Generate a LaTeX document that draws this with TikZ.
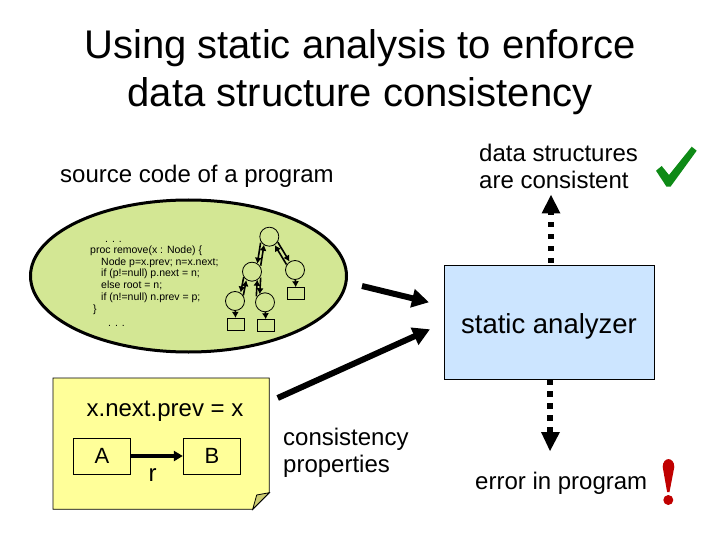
\documentclass[tikz,border=0pt]{standalone}
\usepackage{fontspec}
\setmainfont{Liberation Sans}
\usetikzlibrary{arrows.meta,shapes.geometric}
\definecolor{ellfill}{HTML}{D3E794}
\definecolor{notefill}{HTML}{FFFF99}
\definecolor{foldfill}{HTML}{CDCD70}
\definecolor{boxfill}{HTML}{CCE5FF}
\definecolor{okgreen}{HTML}{0E8A16}
\definecolor{errred}{HTML}{C00000}
\tikzset{
  lbl/.style={inner sep=0pt,align=left,font=\fontsize{24}{27}\selectfont},
  codeln/.style={inner sep=0pt,anchor=base west,font=\fontsize{10.5}{12}\selectfont},
  tn/.style={circle,draw,line width=0.8pt,minimum size=19pt,inner sep=0pt},
  leaf/.style={rectangle,draw,line width=0.8pt,minimum width=17pt,minimum height=12pt,inner sep=0pt},
  link/.style={line width=1.6pt,-{Latex[length=6pt,width=7pt]}},
  big/.style={line width=6pt,-{Triangle[length=17pt,width=18pt]}},
  dots/.style={line width=6.5pt},
  boxnode/.style={draw,line width=0.8pt,inner sep=0pt,font=\fontsize{22}{24}\selectfont,minimum width=57.5pt,minimum height=36pt}
}
\begin{document}
\begin{tikzpicture}[x=1pt,y=-1pt]
\useasboundingbox (0,0) rectangle (720,540);
\fill[white] (0,0) rectangle (720,540);
\node[inner sep=0pt,align=center,font=\fontsize{40}{48}\selectfont] (title) at (360,72) {Using static analysis to enforce\\data structure consistency};
\node[lbl,anchor=west] (src) at (60,176) {source code of a program};
\node[lbl,anchor=west] (cons) at (479,166) {data structures\\are consistent};
\node[draw,ellipse,fill=ellfill,line width=3pt,minimum width=316pt,minimum height=152pt,inner sep=0pt] (prog) at (188.5,276) {};
\node[codeln] (c0) at (105,242) {. . .};
\node[codeln] (c1) at (90,253.5) {proc remove(x : Node) \{};
\node[codeln] (c2) at (101,265) {Node p=x.prev; n=x.next;};
\node[codeln] (c3) at (101,276.5) {if (p!=null) p.next = n;};
\node[codeln] (c4) at (101,288) {else root = n;};
\node[codeln] (c5) at (101,300) {if (n!=null) n.prev = p;};
\node[codeln] (c6) at (93,312) {\}};
\node[codeln] (c7) at (108,326) {. . .};
\node[tn] (r) at (269.3,236.7) {};
\node[tn] (a) at (252,271.7) {};
\node[tn] (b) at (295,270) {};
\node[tn] (ll) at (235,301) {};
\node[tn] (lr) at (265,302.3) {};
\node[leaf] (sb) at (296,293.7) {};
\node[leaf] (sl) at (235.7,324.3) {};
\node[leaf] (sr) at (266,325.7) {};
\draw[link] ([xshift=-1.7pt,yshift=1pt]r.south west) -- ([xshift=-1.7pt,yshift=1pt]a.north east);
\draw[link] ([xshift=1.7pt,yshift=-1pt]a.north east) -- ([xshift=1.7pt,yshift=-1pt]r.south west);
\draw[link] ([xshift=1.5pt,yshift=1.5pt]r.south east) -- ([xshift=1.5pt,yshift=1.5pt]b.north west);
\draw[link] ([xshift=-1.5pt,yshift=-1.5pt]b.north west) -- ([xshift=-1.5pt,yshift=-1.5pt]r.south east);
\draw[link] ([xshift=-1.3pt,yshift=1.5pt]a.south west) -- ([xshift=-1.3pt,yshift=1.5pt]ll.north east);
\draw[link] ([xshift=1.3pt,yshift=-1.5pt]ll.north east) -- ([xshift=1.3pt,yshift=-1.5pt]a.south west);
\draw[link] ([xshift=1.7pt,yshift=1pt]a.south east) -- ([xshift=1.7pt,yshift=1pt]lr.north west);
\draw[link] ([xshift=-1.7pt,yshift=-1pt]lr.north west) -- ([xshift=-1.7pt,yshift=-1pt]a.south east);
\draw[link] (b) -- (sb);
\draw[link] (ll) -- (sl);
\draw[link] (lr) -- (sr);
\draw[fill=notefill,line width=0.8pt] (53,378) -- (269.3,378) -- (269.3,492.7) -- (252.7,509.3) -- (53,509.3) -- cycle;
\draw[fill=foldfill,line width=0.8pt] (269.3,492.7) -- (256.7,495) -- (252.7,509.3) -- cycle;
\node[lbl,anchor=center] (inv) at (165,411.5) {x.next.prev = x};
\node[boxnode,fill=notefill] (A) at (102,456) {A};
\node[boxnode,fill=notefill] (B) at (212,456) {B};
\draw[line width=4pt,-{Triangle[length=9pt,width=10pt]}] (A) -- (B);
\node[lbl,anchor=center] (rl) at (152.5,475) {r};
\node[lbl,anchor=west] (props) at (283,453) {consistency\\properties};
\node[draw,fill=boxfill,line width=0.8pt,minimum width=210pt,minimum height=114pt,inner sep=0pt] (sa) at (549,322) {};
\node[inner sep=0pt,font=\fontsize{27.5}{30}\selectfont] (satext) at (549,326) {static analyzer};
\coordinate (ps) at (362,286);
\coordinate (ns) at (277.7,398);
\coordinate (pe) at (429,302.3);
\coordinate (ne) at (430,329.3);
\draw[big] (ps) -- (pe);
\draw[big] (ns) -- (ne);
\coordinate (up) at (551,195);
\coordinate (upb) at (551,213);
\coordinate (dn) at (550,451);
\coordinate (dnb) at (550,432);
\draw[dots,dash pattern=on 5pt off 7pt,dash phase=10pt] (sa.north -| up) -- (upb);
\fill (up) -- (560.5,213.5) -- (541.5,213.5) -- cycle;
\draw[dots,dash pattern=on 6pt off 6pt] (sa.south -| dn) -- (dnb);
\fill (dn) -- (560,432) -- (541,432) -- cycle;
\node[lbl,anchor=west] (err) at (475,483) {error in program};
\fill[okgreen] (656,170.7) -- (661.7,166) -- (669,175) -- (691.7,146.7) -- (696.7,150.7) -- (670.5,186.7) -- (666.5,186.7) -- cycle;
\fill[errred] (662.7,467) .. controls (662.7,456.5) and (674.3,456.5) .. (674.3,467) -- (669.5,492) -- (667.1,492) -- cycle;
\fill[errred] (668.3,500) circle (5pt);
\end{tikzpicture}
\end{document}
